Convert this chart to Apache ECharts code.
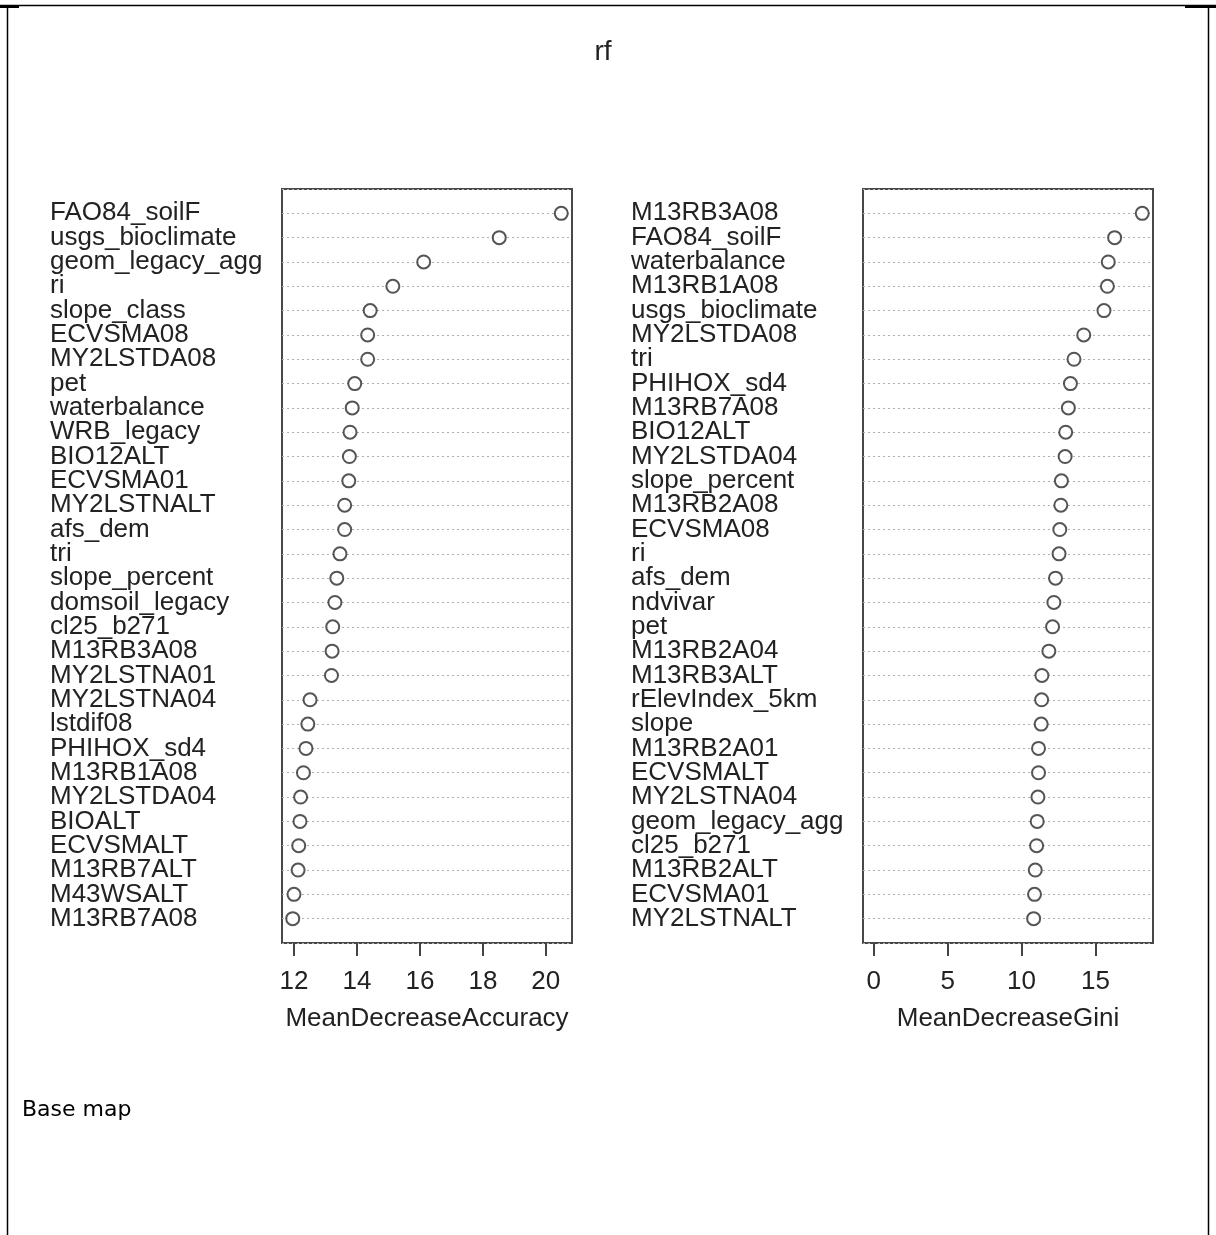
<!DOCTYPE html>
<html>
<head>
<meta charset="utf-8">
<title>rf</title>
<script src="https://cdn.jsdelivr.net/npm/echarts@6/dist/echarts.min.js"></script>
<style>
  html, body { margin: 0; padding: 0; background: #fff; }
  #chart { width: 1216px; height: 1235px; }
</style>
</head>
<body>
<div id="chart"></div>
<script>
// left panel: MeanDecreaseAccuracy (top to bottom)
const accNames = ['FAO84_soilF', 'usgs_bioclimate', 'geom_legacy_agg', 'ri', 'slope_class', 'ECVSMA08', 'MY2LSTDA08', 'pet',
  'waterbalance', 'WRB_legacy', 'BIO12ALT', 'ECVSMA01', 'MY2LSTNALT', 'afs_dem', 'tri', 'slope_percent', 'domsoil_legacy',
  'cl25_b271', 'M13RB3A08', 'MY2LSTNA01', 'MY2LSTNA04', 'lstdif08', 'PHIHOX_sd4', 'M13RB1A08', 'MY2LSTDA04', 'BIOALT',
  'ECVSMALT', 'M13RB7ALT', 'M43WSALT', 'M13RB7A08'];
const accValues = [20.49, 18.52, 16.12, 15.14, 14.42, 14.34, 14.34, 13.93, 13.85, 13.78, 13.76, 13.74, 13.61, 13.61, 13.46,
  13.36, 13.30, 13.23, 13.21, 13.19, 12.51, 12.44, 12.38, 12.30, 12.21, 12.19, 12.15, 12.13, 12.00, 11.96];
const accTicks = [12, 14, 16, 18, 20];

// right panel: MeanDecreaseGini
const giniNames = ['M13RB3A08', 'FAO84_soilF', 'waterbalance', 'M13RB1A08', 'usgs_bioclimate', 'MY2LSTDA08', 'tri',
  'PHIHOX_sd4', 'M13RB7A08', 'BIO12ALT', 'MY2LSTDA04', 'slope_percent', 'M13RB2A08', 'ECVSMA08', 'ri', 'afs_dem', 'ndvivar',
  'pet', 'M13RB2A04', 'M13RB3ALT', 'rElevIndex_5km', 'slope', 'M13RB2A01', 'ECVSMALT', 'MY2LSTNA04', 'geom_legacy_agg',
  'cl25_b271', 'M13RB2ALT', 'ECVSMA01', 'MY2LSTNALT'];
const giniValues = [18.17, 16.30, 15.87, 15.81, 15.58, 14.21, 13.55, 13.31, 13.17, 12.99, 12.95, 12.70, 12.66, 12.59, 12.54,
  12.30, 12.19, 12.10, 11.85, 11.38, 11.36, 11.33, 11.15, 11.15, 11.11, 11.06, 11.02, 10.93, 10.88, 10.82];
const giniTicks = [0, 5, 10, 15];

const FONT = '"Liberation Sans", Arial, sans-serif';
const INK = '#222';

// R style range: data range widened by 4% each side
function rRange(lo, hi) {
  const d = (hi - lo) * 0.04;
  return [lo - d, hi + d];
}
const accRange = rRange(Math.min(...accValues), Math.max(...accValues));
const giniRange = rRange(0, Math.max(...giniValues));

function xAxisFor(gridIndex, range, ticks, name) {
  return {
    type: 'value',
    gridIndex: gridIndex,
    position: 'bottom',
    min: range[0],
    max: range[1],
    name: name,
    nameLocation: 'middle',
    nameGap: 63,
    nameTextStyle: {fontFamily: FONT, fontSize: 26, color: INK},
    axisLine: {show: false, onZero: false},
    axisTick: {show: true, length: 13, customValues: ticks, lineStyle: {color: '#444', width: 2}},
    axisLabel: {customValues: ticks, margin: 26, fontFamily: FONT, fontSize: 26, color: INK},
    splitLine: {show: false}
  };
}

function yAxisFor(gridIndex, names) {
  return {
    type: 'value',
    gridIndex: gridIndex,
    inverse: true,
    min: 0,
    max: names.length + 1,
    interval: 1,
    axisLine: {show: false, onZero: false},
    axisTick: {show: false},
    axisLabel: {
      align: 'left',
      margin: 232,
      fontFamily: FONT,
      fontSize: 26,
      color: INK,
      formatter: v => (v >= 1 && v <= names.length) ? names[v - 1] : ''
    },
    splitLine: {
      show: true,
      lineStyle: {color: '#b0b0b0', type: [2, 3], width: 1}
    }
  };
}

function dots(xIdx, values) {
  return {
    type: 'scatter',
    xAxisIndex: xIdx,
    yAxisIndex: xIdx,
    symbol: 'emptyCircle',
    symbolSize: 13,
    itemStyle: {color: '#2a2a2a', borderColor: '#2a2a2a', borderWidth: 2.6},
    silent: true,
    data: values.map((v, i) => [v, i + 1])
  };
}

const chart = echarts.init(document.getElementById('chart'));
chart.setOption({
  animation: false,
  backgroundColor: '#fff',
  grid: [
    {left: 282, top: 189, width: 290, height: 754, show: true, borderColor: '#484848', borderWidth: 2, backgroundColor: 'transparent'},
    {left: 863, top: 189, width: 290, height: 754, show: true, borderColor: '#484848', borderWidth: 2, backgroundColor: 'transparent'}
  ],
  xAxis: [
    xAxisFor(0, accRange, accTicks, 'MeanDecreaseAccuracy'),
    xAxisFor(1, giniRange, giniTicks, 'MeanDecreaseGini')
  ],
  yAxis: [
    yAxisFor(0, accNames),
    yAxisFor(1, giniNames)
  ],
  series: [
    dots(0, accValues),
    dots(1, giniValues)
  ],
  graphic: [
    // page frame
    {type: 'line', shape: {x1: 0, y1: 5.5, x2: 1216, y2: 5.5}, style: {stroke: '#000', lineWidth: 1.5}},
    {type: 'rect', shape: {x: 0, y: 5, width: 19, height: 3}, style: {fill: '#000'}},
    {type: 'rect', shape: {x: 1185, y: 5, width: 31, height: 3}, style: {fill: '#000'}},
    {type: 'line', shape: {x1: 7.5, y1: 5, x2: 7.5, y2: 1235}, style: {stroke: '#000', lineWidth: 1.5}},
    {type: 'line', shape: {x1: 1208.5, y1: 5, x2: 1208.5, y2: 1235}, style: {stroke: '#000', lineWidth: 1.5}},
    // main title
    {
      type: 'text', x: 603, y: 52,
      style: {text: 'rf', fontFamily: FONT, fontSize: 28, fill: INK, textAlign: 'center', textVerticalAlign: 'middle'}
    },
    {
      type: 'text', x: 22, y: 1110,
      style: {text: 'Base map', fontFamily: '"DejaVu Sans", sans-serif', fontSize: 22, fill: '#000', textAlign: 'left', textVerticalAlign: 'middle'}
    }
  ]
});
</script>
</body>
</html>
